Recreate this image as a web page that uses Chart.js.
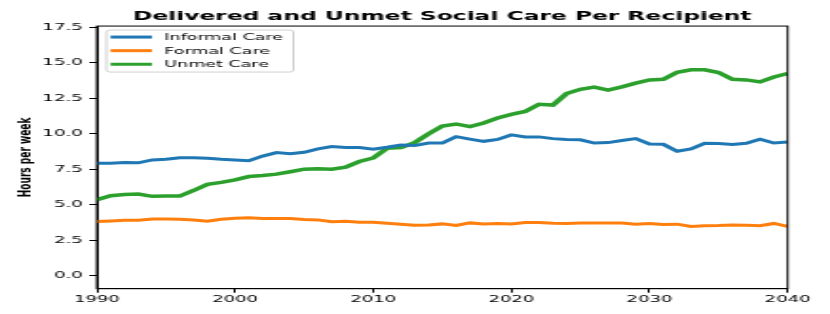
<!DOCTYPE html>
<html>
<head>
<meta charset="utf-8">
<script src="https://cdn.jsdelivr.net/npm/chart.js@4.4.1/dist/chart.umd.min.js"></script>
<style>
  html, body { margin: 0; padding: 0; background: #fff; overflow: hidden; }
  /* the reference figure is stretched sideways, so draw narrow and stretch */
  #wrap { width: 437px; height: 314px; transform: scaleX(1.8993); transform-origin: 0 0; }
</style>
</head>
<body>
<div id="wrap"><canvas id="careChart" width="437" height="314"></canvas></div>
<script>
// Years on the x axis
const years = [
  1990, 1991, 1992, 1993, 1994, 1995, 1996, 1997, 1998, 1999,
  2000, 2001, 2002, 2003, 2004, 2005, 2006, 2007, 2008, 2009,
  2010, 2011, 2012, 2013, 2014, 2015, 2016, 2017, 2018, 2019,
  2020, 2021, 2022, 2023, 2024, 2025, 2026, 2027, 2028, 2029,
  2030, 2031, 2032, 2033, 2034, 2035, 2036, 2037, 2038, 2039, 2040
];

// Hours per week per recipient
const informalCare = [
  7.92, 7.92, 7.97, 7.95, 8.15, 8.20, 8.31, 8.31, 8.27, 8.20,
  8.15, 8.10, 8.42, 8.67, 8.58, 8.69, 8.93, 9.09, 9.02, 9.02,
  8.90, 9.04, 9.20, 9.16, 9.34, 9.34, 9.79, 9.61, 9.46, 9.59,
  9.91, 9.77, 9.77, 9.65, 9.59, 9.57, 9.34, 9.37, 9.52, 9.65,
  9.27, 9.25, 8.76, 8.93, 9.32, 9.30, 9.23, 9.32, 9.61, 9.34, 9.41
];
const formalCare = [
  3.82, 3.86, 3.91, 3.91, 4.00, 4.00, 3.98, 3.93, 3.84, 3.98,
  4.05, 4.08, 4.03, 4.03, 4.03, 3.96, 3.93, 3.80, 3.84, 3.77,
  3.77, 3.70, 3.63, 3.56, 3.58, 3.65, 3.54, 3.72, 3.65, 3.68,
  3.65, 3.75, 3.75, 3.70, 3.68, 3.72, 3.72, 3.72, 3.72, 3.63,
  3.68, 3.61, 3.63, 3.47, 3.52, 3.54, 3.58, 3.56, 3.52, 3.68, 3.47
];
const unmetCare = [
  5.35, 5.63, 5.72, 5.75, 5.59, 5.61, 5.61, 6.00, 6.43, 6.57,
  6.75, 6.98, 7.05, 7.15, 7.32, 7.50, 7.53, 7.50, 7.64, 8.04,
  8.29, 8.97, 9.02, 9.37, 9.98, 10.53, 10.68, 10.49, 10.75, 11.10,
  11.36, 11.56, 12.06, 12.01, 12.82, 13.12, 13.27, 13.06, 13.29, 13.55,
  13.78, 13.83, 14.32, 14.49, 14.49, 14.30, 13.83, 13.78, 13.64, 13.99, 14.23
];

const seriesNames = ['Informal Care', 'Formal Care', 'Unmet Care'];
const seriesColors = ['#1f77b4', '#ff7f0e', '#2ca02c'];
const xTicks = [1990, 2000, 2010, 2020, 2030, 2040];
const yTicks = [0, 2.5, 5, 7.5, 10, 12.5, 15, 17.5];

const tickFont = { family: 'DejaVu Sans', size: 9.5 };

function toPoints(values) {
  return years.map((yr, i) => ({ x: yr, y: values[i] }));
}

// Box around the plot, like matplotlib's spines
const frameBox = {
  id: 'frameBox',
  afterDraw(chart) {
    const { ctx, chartArea: a } = chart;
    ctx.save();
    ctx.strokeStyle = '#000';
    ctx.lineWidth = 1;
    ctx.strokeRect(a.left, a.top, a.right - a.left, a.bottom - a.top);
    ctx.restore();
  }
};

// Legend in the upper left corner of the plot
const cornerLegend = {
  id: 'cornerLegend',
  afterDraw(chart) {
    const { ctx, chartArea: a } = chart;
    const x = a.left + 5, y = a.top + 4, w = 98.5, h = 42;
    ctx.save();
    ctx.fillStyle = 'rgba(255,255,255,0.8)';
    ctx.strokeStyle = '#d0d0d0';
    ctx.lineWidth = 1;
    ctx.beginPath();
    ctx.roundRect(x, y, w, h, 2);
    ctx.fill();
    ctx.stroke();
    ctx.font = '9.2px "DejaVu Sans"';
    ctx.textBaseline = 'middle';
    chart.data.datasets.forEach((ds, i) => {
      const rowY = y + 7 + i * 13.6;
      ctx.strokeStyle = ds.borderColor;
      ctx.lineWidth = 3;
      ctx.beginPath();
      ctx.moveTo(x + 2.2, rowY);
      ctx.lineTo(x + 24, rowY);
      ctx.stroke();
      ctx.fillStyle = '#000';
      ctx.fillText(ds.label, x + 30.6, rowY + 0.5);
    });
    ctx.restore();
  }
};

const ctx = document.getElementById('careChart').getContext('2d');
new Chart(ctx, {
  type: 'line',
  data: {
    datasets: [
      { label: seriesNames[0], data: toPoints(informalCare), borderColor: seriesColors[0], borderWidth: 3 },
      { label: seriesNames[1], data: toPoints(formalCare), borderColor: seriesColors[1], borderWidth: 3 },
      { label: seriesNames[2], data: toPoints(unmetCare), borderColor: seriesColors[2], borderWidth: 3.5 }
    ]
  },
  options: {
    responsive: false,
    animation: false,
    elements: { point: { radius: 0 }, line: { tension: 0 } },
    layout: { padding: { left: 0, right: 22.3, top: 0, bottom: 0 } },
    plugins: {
      legend: { display: false },
      tooltip: { enabled: false },
      title: {
        display: true,
        text: 'Delivered and Unmet Social Care Per Recipient',
        fullSize: false,
        color: '#000',
        font: { family: 'DejaVu Sans', size: 12.3, weight: 'bold' },
        padding: { top: 9.5, bottom: 1.8 }
      }
    },
    scales: {
      x: {
        type: 'linear',
        min: 1990,
        max: 2040,
        afterBuildTicks(scale) {
          scale.ticks = xTicks.map(v => ({ value: v }));
        },
        afterFit(scale) { scale.height = 25.3; },
        ticks: {
          color: '#000',
          font: tickFont,
          padding: 1.5,
          maxRotation: 0,
          callback: v => String(v)
        },
        grid: { drawOnChartArea: false, tickLength: 4, tickColor: '#000' },
        border: { color: '#000', width: 1 }
      },
      y: {
        min: -0.91,
        max: 17.57,
        afterBuildTicks(scale) {
          scale.ticks = yTicks.map(v => ({ value: v }));
        },
        afterFit(scale) { scale.width = 51; },
        ticks: {
          color: '#000',
          font: tickFont,
          padding: 3.5,
          callback: v => Number(v).toFixed(1)
        },
        grid: { drawOnChartArea: false, tickLength: 4, tickColor: '#000' },
        border: { color: '#000', width: 1 },
        title: {
          display: true,
          text: 'Hours per week',
          color: '#000',
          font: { family: 'DejaVu Sans', size: 9, weight: 'bold' },
          padding: { top: 8.5, bottom: 0 }
        }
      }
    }
  },
  plugins: [frameBox, cornerLegend]
});
</script>
</body>
</html>
